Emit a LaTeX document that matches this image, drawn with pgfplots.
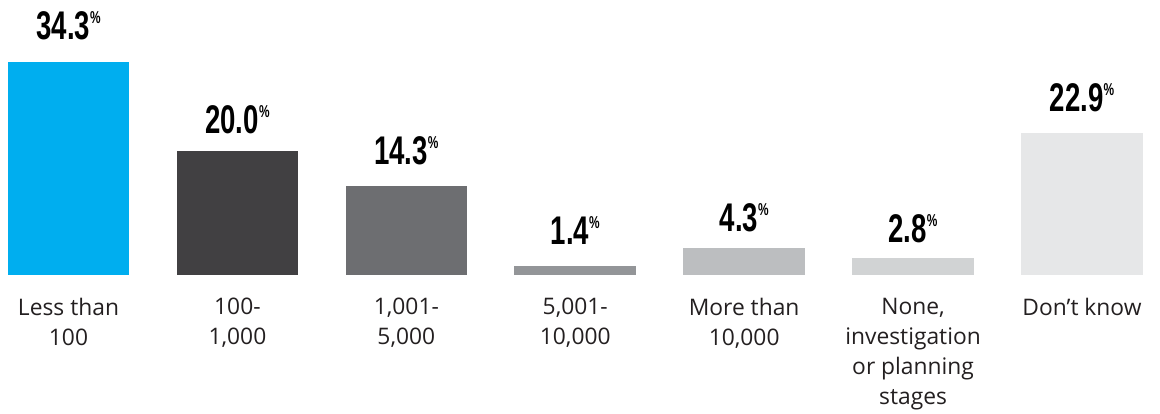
\documentclass[border=0pt]{standalone}
\usepackage{fontspec}
\usepackage{pgfplots}
\pgfplotsset{compat=1.18}
\newfontfamily\numfont[FakeStretch=0.69]{Liberation Sans Bold}
\newfontfamily\catfont{Open Sans}
\definecolor{c1}{HTML}{00AEEF}
\definecolor{c2}{HTML}{414042}
\definecolor{c3}{HTML}{6D6E71}
\definecolor{c4}{HTML}{939598}
\definecolor{c5}{HTML}{BCBEC0}
\definecolor{c6}{HTML}{D1D3D4}
\definecolor{c7}{HTML}{E6E7E8}
\definecolor{txt}{HTML}{231F20}
\newcommand{\vlab}{\numfont\fontsize{20}{21}\selectfont\pgfmathprintnumber[fixed,fixed zerofill,precision=1,assume math mode=true]{\pgfplotspointmeta}\raisebox{8pt}{\fontsize{8.6}{9}\selectfont\%}}
\begin{document}
\begin{tikzpicture}
\useasboundingbox (0,-69pt) rectangle (580pt,137.5pt);
\begin{axis}[
  at={(0,0)}, anchor=south west,
  scale only axis, width=580pt, height=137.5pt,
  xmin=-0.4056, xmax=6.462, ymin=0, ymax=44.35,
  ybar, bar width=0.72, bar shift=0pt,
  axis line style={draw=none}, tick style={draw=none},
  ytick=\empty,
  xtick={0,1,2,3,4,5,6},
  xticklabels={{Less than\\100},{100-\\1,000},{1,001-\\5,000},{5,001-\\10,000},{More than\\10,000},{None,\\investigation\\or planning\\stages},{Don’t know}},
  xticklabel style={font=\catfont\fontsize{11.4}{15}\selectfont, text=txt, align=center, anchor=north, inner sep=0pt, yshift=-7pt},
  nodes near coords={\vlab},
  every node near coord/.append style={anchor=south, inner sep=0pt, text=black},
  clip=false,
]
\addplot[draw=none, fill=c1, nodes near coords style={yshift=11pt}] coordinates {(0,34.3)};
\addplot[draw=none, fill=c2, nodes near coords style={yshift=8.5pt}] coordinates {(1,20.0)};
\addplot[draw=none, fill=c3, nodes near coords style={yshift=10.5pt}] coordinates {(2,14.3)};
\addplot[draw=none, fill=c4, nodes near coords style={yshift=10.5pt}] coordinates {(3,1.4)};
\addplot[draw=none, fill=c5, nodes near coords style={yshift=8pt}] coordinates {(4,4.3)};
\addplot[draw=none, fill=c6, nodes near coords style={yshift=7pt}] coordinates {(5,2.8)};
\addplot[draw=none, fill=c7, nodes near coords style={yshift=10.5pt}] coordinates {(6,22.9)};
\end{axis}
\end{tikzpicture}
\end{document}
